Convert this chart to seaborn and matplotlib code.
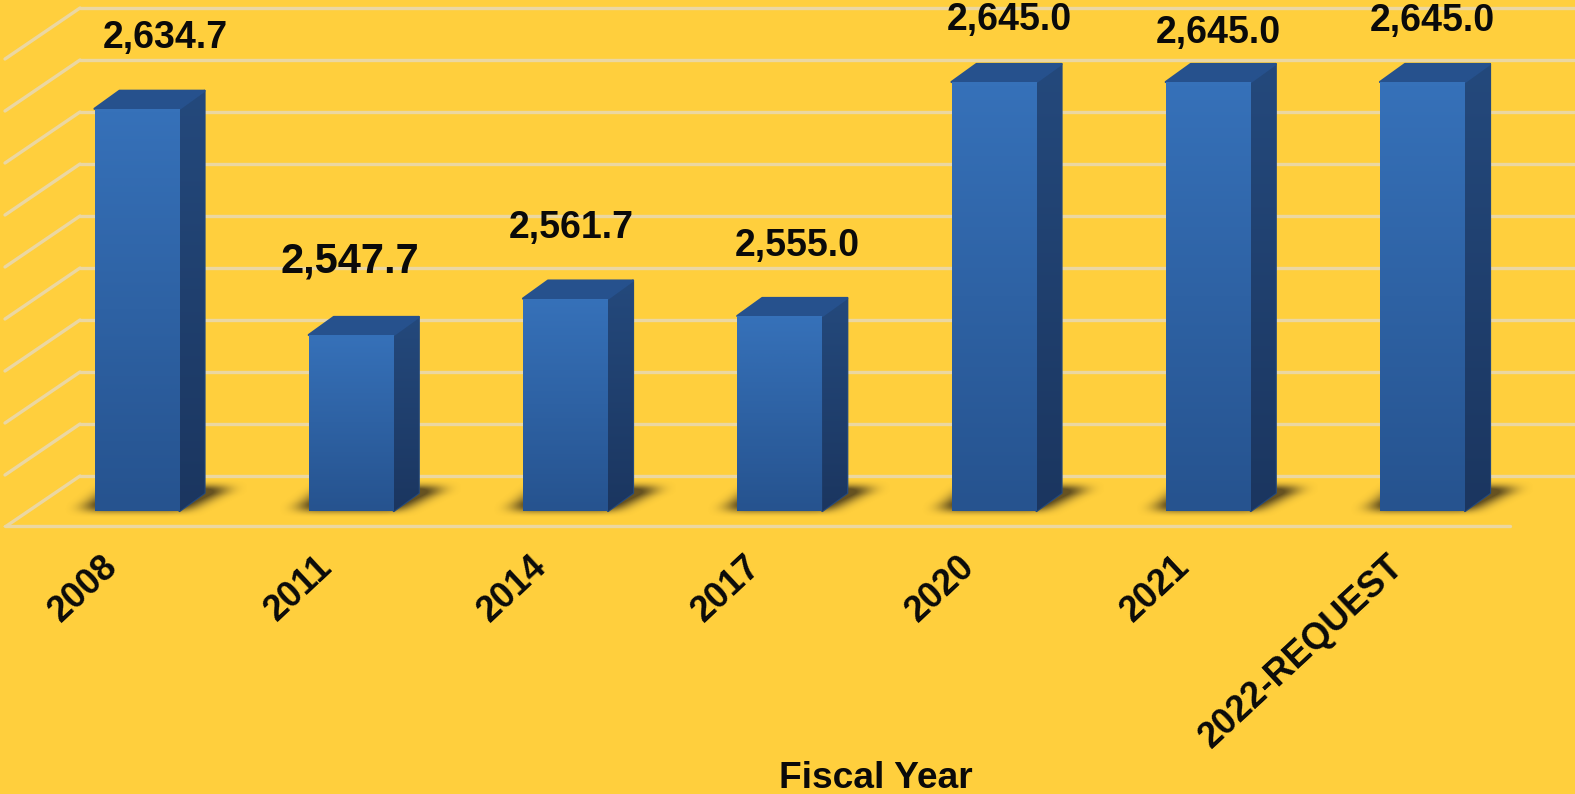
import numpy as np
import pandas as pd
import matplotlib
matplotlib.use("Agg")
import matplotlib.pyplot as plt
from matplotlib.colors import LinearSegmentedColormap, to_rgb
from matplotlib.patches import Polygon
from matplotlib.transforms import ScaledTranslation
import seaborn as sns

# ---- data ----
categories = ["2008", "2011", "2014", "2017", "2020", "2021", "2022-REQUEST"]
values = [2634.7, 2547.7, 2561.7, 2555.0, 2645.0, 2645.0, 2645.0]
value_labels = ["2,634.7", "2,547.7", "2,561.7", "2,555.0", "2,645.0", "2,645.0", "2,645.0"]
grid_values = [2480, 2500, 2520, 2540, 2560, 2580, 2600, 2620, 2640, 2660]
x_title = "Fiscal Year"

# ---- layout / style ----
W, H = 1575, 794
BASE = 2480
PX_PER_CAT = 214.25
PX_PER_UNIT = 2.6
FIRST_X_PX, BASE_Y_PX, FLOOR_Y_PX = 137, 511, 527
BG = "#FFCF3D"
GRID = "#EBD7A2"
label_dx = [28, -1, 5.5, 17, 15.5, 10, 10]
label_dy = [71, 73, 71, 70, 62, 49, 61]
label_size = [27, 30, 27, 27, 27, 27, 27]

sns.set_theme(style="white")
plt.rcParams["font.family"] = ["Liberation Sans", "DejaVu Sans"]

fig = plt.figure(figsize=(W / 100, H / 100), dpi=100, facecolor=BG)
ax = fig.add_axes([0, (H - FLOOR_Y_PX) / H, 1, FLOOR_Y_PX / H])
ax.set_facecolor(BG)

df = pd.DataFrame({"year": categories, "value": values})
sns.barplot(data=df, x="year", y="value", order=categories, color="#2F61A3",
            width=85 / PX_PER_CAT, saturation=1, ax=ax, zorder=4)

xlim = (-FIRST_X_PX / PX_PER_CAT, (W - FIRST_X_PX) / PX_PER_CAT)
ylim = (BASE - (FLOOR_Y_PX - BASE_Y_PX) / PX_PER_UNIT, BASE + BASE_Y_PX / PX_PER_UNIT)
ax.set_xlim(xlim)
ax.set_ylim(ylim)

# data-unit equivalents of the pseudo-3D offsets
depth_x, depth_y = 25 / PX_PER_CAT, 18 / PX_PER_UNIT
wall_y = (BASE_Y_PX - 476) / PX_PER_UNIT
wall_left = xlim[0] + 80 / PX_PER_CAT
wall_edge = xlim[0] + 5 / PX_PER_CAT
floor_right = xlim[0] + 1510 / PX_PER_CAT
floor_y = ylim[0] + 0.3

line_kw = dict(color=GRID, lw=2.4, solid_capstyle="round", zorder=1)
for gv in grid_values:
    y = gv + wall_y
    ax.plot([wall_left, xlim[1]], [y, y], **line_kw)
    ax.plot([wall_edge, wall_left], [y - 51 / PX_PER_UNIT, y], **line_kw)
ax.plot([wall_edge, floor_right], [floor_y, floor_y], clip_on=False, **line_kw)


def gradient(top, bottom):
    return LinearSegmentedColormap.from_list("g", [bottom, top])


def paint(artist_xy, extent, cmap, zorder):
    poly = Polygon(artist_xy, closed=True, facecolor="none", edgecolor="none",
                   transform=ax.transData, zorder=zorder)
    ax.add_patch(poly)
    im = ax.imshow(np.linspace(1, 0, 64)[:, None], extent=extent, cmap=cmap,
                   aspect="auto", zorder=zorder, interpolation="bicubic")
    im.set_clip_path(poly)


front_map = gradient("#3671B9", "#26538F")
side_map = gradient("#24497C", "#1B3660")

# soft shadows on the floor, computed from each bar's footprint
rows, cols = FLOOR_Y_PX, W
yy, xx = np.mgrid[0:rows, 0:cols]
mask = np.zeros((rows, cols))
top_px, bottom_px = BASE_Y_PX - 24, BASE_Y_PX - 2
for patch in ax.patches[:len(values)]:
    L = (patch.get_x() - xlim[0]) * PX_PER_CAT
    R = L + patch.get_width() * PX_PER_CAT
    t = np.clip((BASE_Y_PX - yy) / 24.0, 0, 1)
    inside = (yy <= bottom_px) & (yy >= top_px)
    mask[inside & (xx >= L - 14 + 30 * t) & (xx <= R + 2 + 48 * t)] = 1.0


def box_blur(a, rx, ry):
    kx = np.ones(2 * rx + 1) / (2 * rx + 1)
    ky = np.ones(2 * ry + 1) / (2 * ry + 1)
    a = np.apply_along_axis(lambda m: np.convolve(m, kx, mode="same"), 1, a)
    return np.apply_along_axis(lambda m: np.convolve(m, ky, mode="same"), 0, a)


soft = box_blur(box_blur(mask, 12, 4), 9, 3)
rgba = np.zeros((rows, cols, 4))
rgba[..., :3] = to_rgb("#4A3C1C")
rgba[..., 3] = np.clip(soft * 1.25, 0, 0.85)
ax.imshow(rgba, extent=(xlim[0], xlim[1], ylim[0], ylim[1]), aspect="auto",
          origin="upper", zorder=2, interpolation="bilinear")

for patch, v in zip(ax.patches[:len(values)], values):
    patch.set_y(BASE)
    patch.set_height(v - BASE)
    patch.set_facecolor("none")
    patch.set_edgecolor("none")
    x0 = patch.get_x()
    x1 = x0 + patch.get_width()
    # side face
    side = [(x1, BASE), (x1 + depth_x, BASE + depth_y), (x1 + depth_x, v + depth_y), (x1, v)]
    ax.add_patch(Polygon(side, closed=True, facecolor="none", edgecolor="#24497C", lw=1.6,
                         joinstyle="round", zorder=3))
    paint(side, (x1, x1 + depth_x, BASE, v + depth_y), side_map, 3)
    # top face
    ax.add_patch(Polygon([(x0, v), (x1, v), (x1 + depth_x, v + depth_y), (x0 + depth_x, v + depth_y)],
                         closed=True, facecolor="#26518D", edgecolor="#26518D", lw=1.6,
                         joinstyle="round", zorder=3))
    # front face
    front = [(x0, BASE), (x1, BASE), (x1, v), (x0, v)]
    paint(front, (x0, x1, BASE, v), front_map, 4)

for i, (v, txt) in enumerate(zip(values, value_labels)):
    ax.annotate(txt, xy=(i, v), xytext=(label_dx[i], label_dy[i]), textcoords="offset pixels",
                ha="center", va="center", fontsize=label_size[i], fontweight="bold",
                color="#0A0A0A", zorder=6, annotation_clip=False)

ax.set_xlim(xlim)
ax.set_ylim(ylim)
ax.set_yticks([])
ax.set_ylabel("")
ax.set_xticks(range(len(categories)))
ax.set_xticklabels(categories, rotation=43, ha="right", rotation_mode="anchor",
                   fontsize=25.8, fontweight="bold", color="#0A0A0A")
ax.tick_params(axis="x", length=0, pad=18)
shift = ScaledTranslation(-36 / 100, 3 / 100, fig.dpi_scale_trans)
for lab in ax.get_xticklabels():
    lab.set_transform(lab.get_transform() + shift)
ax.set_xlabel(x_title, fontsize=26.7, fontweight="bold", color="#0A0A0A")
ax.xaxis.set_label_coords(876 / W, -(779 - FLOOR_Y_PX) / FLOOR_Y_PX, transform=ax.transAxes)
ax.xaxis.label.set_va("center")
sns.despine(ax=ax, left=True, bottom=True, top=True, right=True)

fig.savefig("out.png", dpi=100, facecolor=BG)
